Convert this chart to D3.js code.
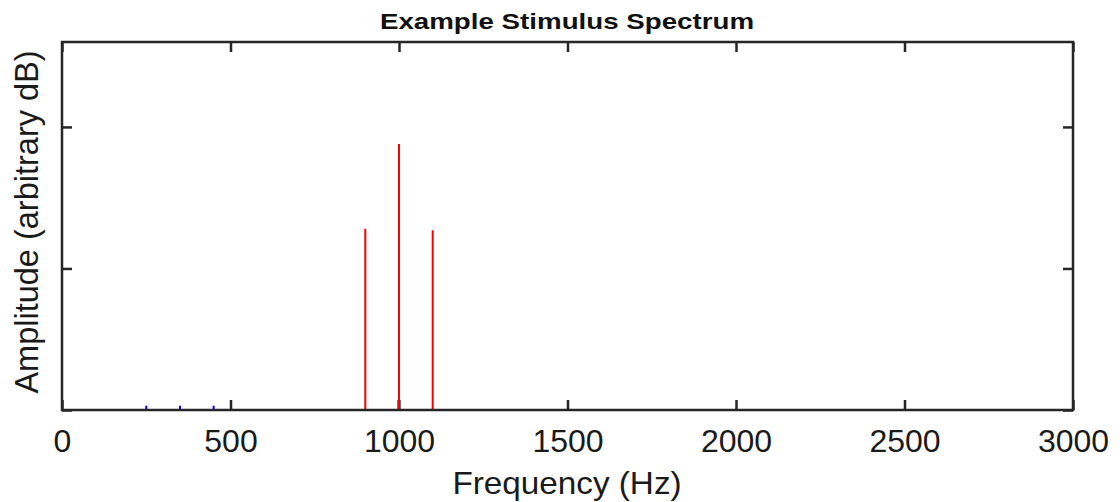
<!DOCTYPE html>
<html>
<head>
<meta charset="utf-8">
<script src="https://cdn.jsdelivr.net/npm/d3@7"></script>
<style>
  body { margin: 0; background: #fff; }
  svg { display: block; font-family: Arial, "Liberation Sans", sans-serif; }
</style>
</head>
<body>
<div id="chart"></div>
<script>
// spectrum components (Hz, arbitrary dB)
const targetFreqs = [900, 1000, 1100];
const targetAmps = [1.28, 1.88, 1.27];
const maskerFreqs = [250, 350, 450];
const maskerAmps = [0.03, 0.03, 0.03];
const probeFreqs = [1000];
const probeAmps = [0.07];

const xTicks = [0, 500, 1000, 1500, 2000, 2500, 3000];
const yTicks = [0, 1, 2];

const width = 1120, height = 502;
const margin = { top: 42, right: 47, bottom: 92, left: 62 };
const innerWidth = width - margin.left - margin.right;
const innerHeight = height - margin.top - margin.bottom;

const svg = d3.select("#chart").append("svg")
    .attr("width", width)
    .attr("height", height);

// Title
svg.append("text")
    .attr("transform", "translate(567, 29) scale(1.26, 1)")
    .attr("text-anchor", "middle")
    .attr("font-size", "22px")
    .attr("font-weight", "bold")
    .attr("fill", "#111")
    .text("Example Stimulus Spectrum");

const chart = svg.append("g")
    .attr("transform", `translate(${margin.left}, ${margin.top})`);

const x = d3.scaleLinear().domain([0, 3000]).range([0, innerWidth]);
const y = d3.scaleLinear().domain([0, 2.6]).range([innerHeight, 0]);

const axisColor = "#262626";

function styleAxis(g) {
    g.select(".domain").remove();
    g.selectAll(".tick line").attr("stroke", axisColor).attr("stroke-width", 2.5);
}

// Bottom axis with labels
const xAxisG = chart.append("g")
    .attr("transform", `translate(0, ${innerHeight})`)
    .call(d3.axisBottom(x).tickValues(xTicks).tickSizeInner(-10).tickSizeOuter(0).tickPadding(19).tickFormat(d3.format("d")));
styleAxis(xAxisG);
xAxisG.selectAll("text")
    .attr("font-size", "32px")
    .attr("fill", "#1a1a1a")
    .attr("font-family", "Arial, 'Liberation Sans', sans-serif");

// Top axis, ticks only
const xTopG = chart.append("g")
    .call(d3.axisTop(x).tickValues(xTicks).tickSizeInner(-10).tickSizeOuter(0).tickFormat(""));
styleAxis(xTopG);

// Left & right axes, ticks only
const yLeftG = chart.append("g")
    .call(d3.axisLeft(y).tickValues(yTicks).tickSizeInner(-10).tickSizeOuter(0).tickFormat(""));
styleAxis(yLeftG);
const yRightG = chart.append("g")
    .attr("transform", `translate(${innerWidth}, 0)`)
    .call(d3.axisRight(y).tickValues(yTicks).tickSizeInner(-10).tickSizeOuter(0).tickFormat(""));
styleAxis(yRightG);

// Masker components (blue)
chart.selectAll(".masker")
    .data(maskerFreqs.map((f, i) => ({ f, a: maskerAmps[i] })))
    .enter().append("line")
    .attr("class", "masker")
    .attr("x1", d => x(d.f)).attr("x2", d => x(d.f))
    .attr("y1", y(0)).attr("y2", d => y(d.a))
    .attr("stroke", "#0000ff")
    .attr("stroke-width", 2);

// Probe component (dark, under the target line)
chart.selectAll(".probe")
    .data(probeFreqs.map((f, i) => ({ f, a: probeAmps[i] })))
    .enter().append("line")
    .attr("class", "probe")
    .attr("x1", d => x(d.f)).attr("x2", d => x(d.f))
    .attr("y1", y(0)).attr("y2", d => y(d.a))
    .attr("stroke", "#777")
    .attr("stroke-width", 4);

// Target components (red)
chart.selectAll(".target")
    .data(targetFreqs.map((f, i) => ({ f, a: targetAmps[i] })))
    .enter().append("line")
    .attr("class", "target")
    .attr("x1", d => x(d.f)).attr("x2", d => x(d.f))
    .attr("y1", y(0)).attr("y2", d => y(d.a))
    .attr("stroke", "#ff0000")
    .attr("stroke-width", 2);

// Frame
chart.append("rect")
    .attr("x", 0).attr("y", 0)
    .attr("width", innerWidth).attr("height", innerHeight)
    .attr("fill", "none")
    .attr("stroke", axisColor)
    .attr("stroke-width", 2.5);

// Axis labels
svg.append("text")
    .attr("transform", "translate(567, 494) scale(1.04, 1)")
    .attr("text-anchor", "middle")
    .attr("font-size", "32px")
    .attr("fill", "#1a1a1a")
    .text("Frequency (Hz)");

svg.append("text")
    .attr("transform", "translate(37.5, 222) rotate(-90)")
    .attr("text-anchor", "middle")
    .attr("font-size", "32.5px")
    .attr("fill", "#1a1a1a")
    .text("Amplitude (arbitrary dB)");
</script>
</body>
</html>
